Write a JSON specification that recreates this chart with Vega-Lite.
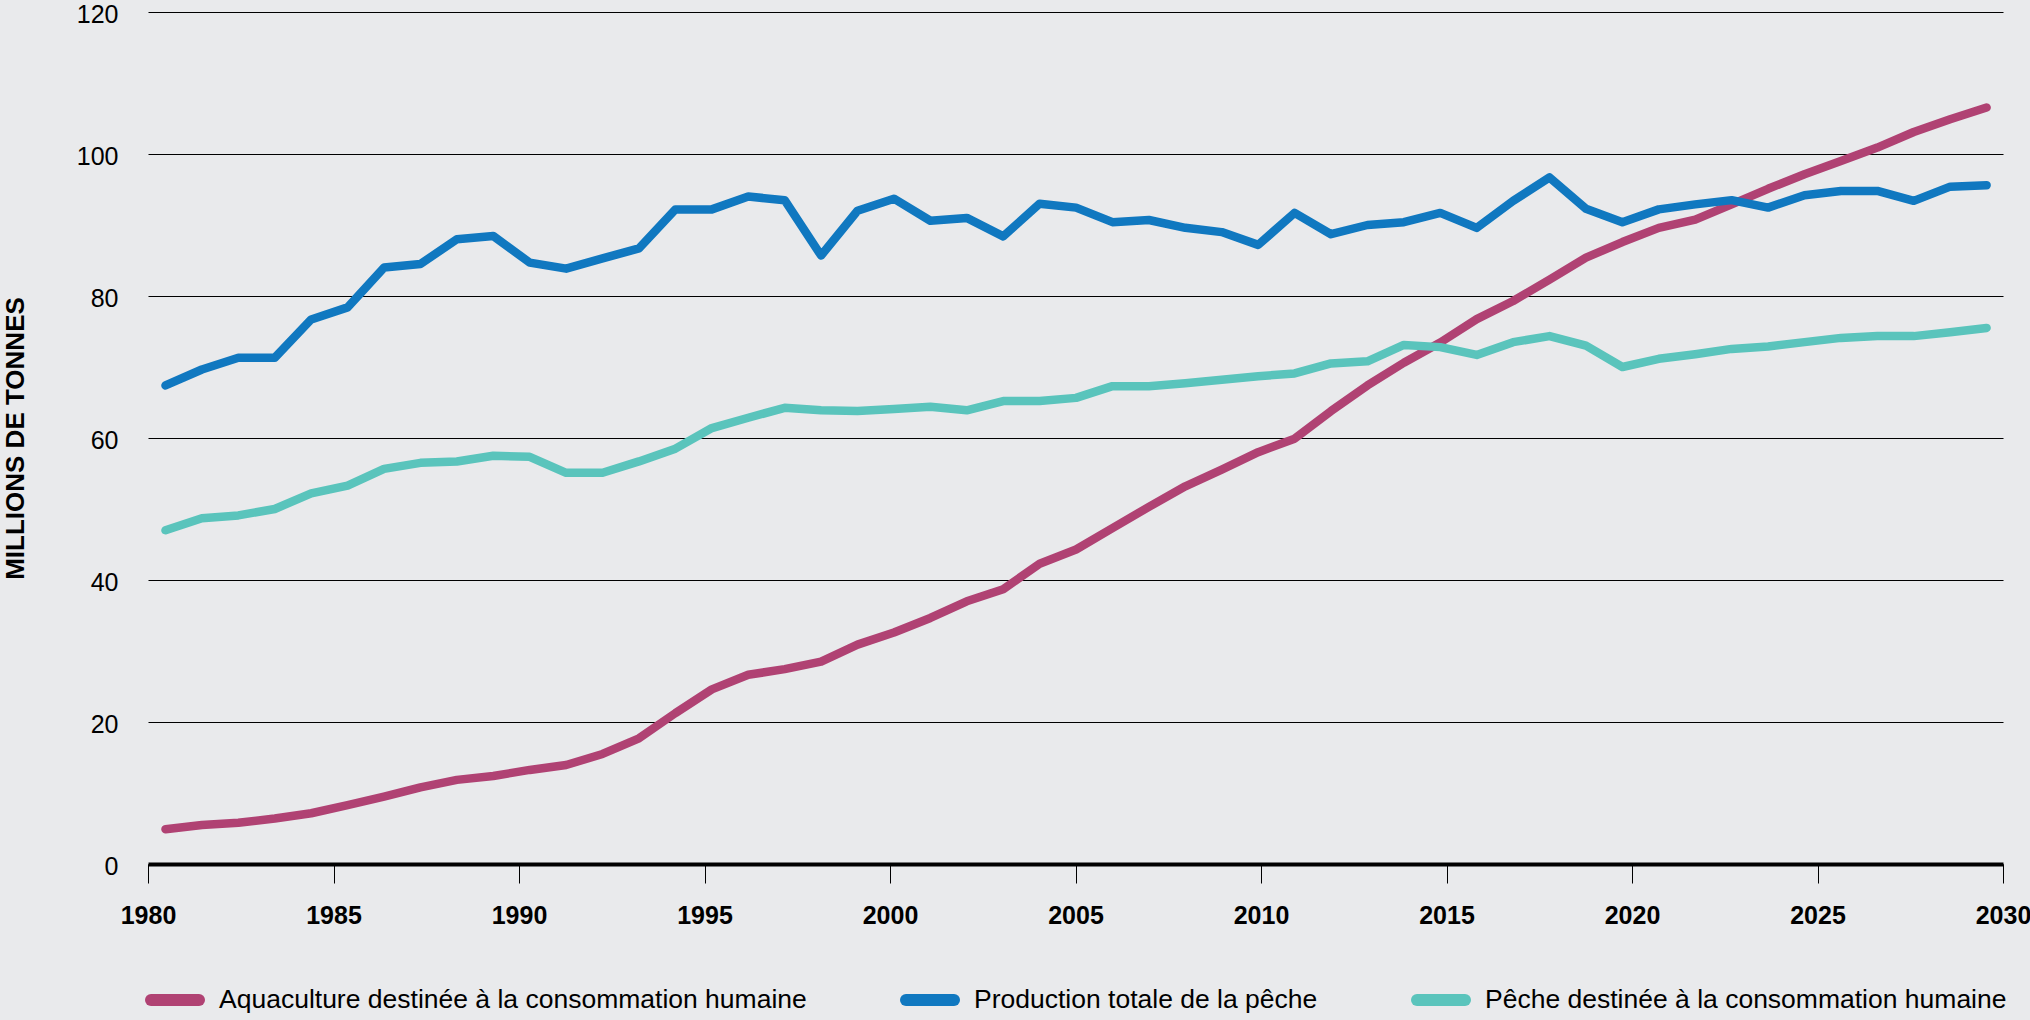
{
  "$schema": "https://vega.github.io/schema/vega-lite/v6.json",
  "width": 1855,
  "height": 852,
  "autosize": {"type": "none"},
  "padding": {"left": 148, "top": 12, "right": 27, "bottom": 156},
  "background": "#E9EAEC",
  "config": {
    "view": {"stroke": null},
    "font": "Liberation Sans, Arial, sans-serif"
  },
  "data": {
    "values": [
      {"year": 1980, "Aquaculture destinée à la consommation humaine": 4.9, "Production totale de la pêche": 67.4, "Pêche destinée à la consommation humaine": 47.0},
      {"year": 1981, "Aquaculture destinée à la consommation humaine": 5.5, "Production totale de la pêche": 69.65, "Pêche destinée à la consommation humaine": 48.7},
      {"year": 1982, "Aquaculture destinée à la consommation humaine": 5.8, "Production totale de la pêche": 71.3, "Pêche destinée à la consommation humaine": 49.1},
      {"year": 1983, "Aquaculture destinée à la consommation humaine": 6.4, "Production totale de la pêche": 71.3, "Pêche destinée à la consommation humaine": 50.0},
      {"year": 1984, "Aquaculture destinée à la consommation humaine": 7.15, "Production totale de la pêche": 76.7, "Pêche destinée à la consommation humaine": 52.2},
      {"year": 1985, "Aquaculture destinée à la consommation humaine": 8.3, "Production totale de la pêche": 78.4, "Pêche destinée à la consommation humaine": 53.3},
      {"year": 1986, "Aquaculture destinée à la consommation humaine": 9.5, "Production totale de la pêche": 84.0, "Pêche destinée à la consommation humaine": 55.65},
      {"year": 1987, "Aquaculture destinée à la consommation humaine": 10.8, "Production totale de la pêche": 84.5, "Pêche destinée à la consommation humaine": 56.5},
      {"year": 1988, "Aquaculture destinée à la consommation humaine": 11.85, "Production totale de la pêche": 88.0, "Pêche destinée à la consommation humaine": 56.7},
      {"year": 1989, "Aquaculture destinée à la consommation humaine": 12.4, "Production totale de la pêche": 88.45, "Pêche destinée à la consommation humaine": 57.5},
      {"year": 1990, "Aquaculture destinée à la consommation humaine": 13.25, "Production totale de la pêche": 84.7, "Pêche destinée à la consommation humaine": 57.35},
      {"year": 1991, "Aquaculture destinée à la consommation humaine": 13.95, "Production totale de la pêche": 83.85, "Pêche destinée à la consommation humaine": 55.1},
      {"year": 1992, "Aquaculture destinée à la consommation humaine": 15.5, "Production totale de la pêche": 85.3, "Pêche destinée à la consommation humaine": 55.1},
      {"year": 1993, "Aquaculture destinée à la consommation humaine": 17.7, "Production totale de la pêche": 86.7, "Pêche destinée à la consommation humaine": 56.7},
      {"year": 1994, "Aquaculture destinée à la consommation humaine": 21.25, "Production totale de la pêche": 92.2, "Pêche destinée à la consommation humaine": 58.5},
      {"year": 1995, "Aquaculture destinée à la consommation humaine": 24.6, "Production totale de la pêche": 92.2, "Pêche destinée à la consommation humaine": 61.4},
      {"year": 1996, "Aquaculture destinée à la consommation humaine": 26.65, "Production totale de la pêche": 94.0, "Pêche destinée à la consommation humaine": 62.85},
      {"year": 1997, "Aquaculture destinée à la consommation humaine": 27.45, "Production totale de la pêche": 93.5, "Pêche destinée à la consommation humaine": 64.25},
      {"year": 1998, "Aquaculture destinée à la consommation humaine": 28.5, "Production totale de la pêche": 85.7, "Pêche destinée à la consommation humaine": 63.9},
      {"year": 1999, "Aquaculture destinée à la consommation humaine": 30.9, "Production totale de la pêche": 92.0, "Pêche destinée à la consommation humaine": 63.8},
      {"year": 2000, "Aquaculture destinée à la consommation humaine": 32.6, "Production totale de la pêche": 93.7, "Pêche destinée à la consommation humaine": 64.1},
      {"year": 2001, "Aquaculture destinée à la consommation humaine": 34.65, "Production totale de la pêche": 90.6, "Pêche destinée à la consommation humaine": 64.4},
      {"year": 2002, "Aquaculture destinée à la consommation humaine": 37.0, "Production totale de la pêche": 91.0, "Pêche destinée à la consommation humaine": 63.9},
      {"year": 2003, "Aquaculture destinée à la consommation humaine": 38.7, "Production totale de la pêche": 88.4, "Pêche destinée à la consommation humaine": 65.2},
      {"year": 2004, "Aquaculture destinée à la consommation humaine": 42.3, "Production totale de la pêche": 93.0, "Pêche destinée à la consommation humaine": 65.2},
      {"year": 2005, "Aquaculture destinée à la consommation humaine": 44.3, "Production totale de la pêche": 92.45, "Pêche destinée à la consommation humaine": 65.65},
      {"year": 2006, "Aquaculture destinée à la consommation humaine": 47.3, "Production totale de la pêche": 90.4, "Pêche destinée à la consommation humaine": 67.3},
      {"year": 2007, "Aquaculture destinée à la consommation humaine": 50.3, "Production totale de la pêche": 90.7, "Pêche destinée à la consommation humaine": 67.3},
      {"year": 2008, "Aquaculture destinée à la consommation humaine": 53.2, "Production totale de la pêche": 89.6, "Pêche destinée à la consommation humaine": 67.7},
      {"year": 2009, "Aquaculture destinée à la consommation humaine": 55.55, "Production totale de la pêche": 89.0, "Pêche destinée à la consommation humaine": 68.2},
      {"year": 2010, "Aquaculture destinée à la consommation humaine": 58.0, "Production totale de la pêche": 87.2, "Pêche destinée à la consommation humaine": 68.7},
      {"year": 2011, "Aquaculture destinée à la consommation humaine": 59.9, "Production totale de la pêche": 91.7, "Pêche destinée à la consommation humaine": 69.1},
      {"year": 2012, "Aquaculture destinée à la consommation humaine": 63.8, "Production totale de la pêche": 88.7, "Pêche destinée à la consommation humaine": 70.5},
      {"year": 2013, "Aquaculture destinée à la consommation humaine": 67.4, "Production totale de la pêche": 90.0, "Pêche destinée à la consommation humaine": 70.8},
      {"year": 2014, "Aquaculture destinée à la consommation humaine": 70.6, "Production totale de la pêche": 90.4, "Pêche destinée à la consommation humaine": 73.1},
      {"year": 2015, "Aquaculture destinée à la consommation humaine": 73.45, "Production totale de la pêche": 91.7, "Pêche destinée à la consommation humaine": 72.8},
      {"year": 2016, "Aquaculture destinée à la consommation humaine": 76.75, "Production totale de la pêche": 89.6, "Pêche destinée à la consommation humaine": 71.7},
      {"year": 2017, "Aquaculture destinée à la consommation humaine": 79.3, "Production totale de la pêche": 93.4, "Pêche destinée à la consommation humaine": 73.5},
      {"year": 2018, "Aquaculture destinée à la consommation humaine": 82.3, "Production totale de la pêche": 96.7, "Pêche destinée à la consommation humaine": 74.35},
      {"year": 2019, "Aquaculture destinée à la consommation humaine": 85.4, "Production totale de la pêche": 92.3, "Pêche destinée à la consommation humaine": 73.0},
      {"year": 2020, "Aquaculture destinée à la consommation humaine": 87.6, "Production totale de la pêche": 90.4, "Pêche destinée à la consommation humaine": 70.0},
      {"year": 2021, "Aquaculture destinée à la consommation humaine": 89.6, "Production totale de la pêche": 92.2, "Pêche destinée à la consommation humaine": 71.15},
      {"year": 2022, "Aquaculture destinée à la consommation humaine": 90.75, "Production totale de la pêche": 92.9, "Pêche destinée à la consommation humaine": 71.8},
      {"year": 2023, "Aquaculture destinée à la consommation humaine": 92.9, "Production totale de la pêche": 93.5, "Pêche destinée à la consommation humaine": 72.55},
      {"year": 2024, "Aquaculture destinée à la consommation humaine": 95.1, "Production totale de la pêche": 92.45, "Pêche destinée à la consommation humaine": 72.9},
      {"year": 2025, "Aquaculture destinée à la consommation humaine": 97.15, "Production totale de la pêche": 94.2, "Pêche destinée à la consommation humaine": 73.5},
      {"year": 2026, "Aquaculture destinée à la consommation humaine": 99.0, "Production totale de la pêche": 94.8, "Pêche destinée à la consommation humaine": 74.1},
      {"year": 2027, "Aquaculture destinée à la consommation humaine": 100.9, "Production totale de la pêche": 94.8, "Pêche destinée à la consommation humaine": 74.35},
      {"year": 2028, "Aquaculture destinée à la consommation humaine": 103.1, "Production totale de la pêche": 93.4, "Pêche destinée à la consommation humaine": 74.35},
      {"year": 2029, "Aquaculture destinée à la consommation humaine": 104.9, "Production totale de la pêche": 95.4, "Pêche destinée à la consommation humaine": 74.9},
      {"year": 2030, "Aquaculture destinée à la consommation humaine": 106.55, "Production totale de la pêche": 95.6, "Pêche destinée à la consommation humaine": 75.5}
    ]
  },
  "transform": [
    {"fold": ["Aquaculture destinée à la consommation humaine", "Production totale de la pêche", "Pêche destinée à la consommation humaine"], "as": ["serie", "valeur"]}
  ],
  "encoding": {
    "y": {
      "field": "valeur",
      "type": "quantitative",
      "scale": {"domain": [0, 120], "nice": false, "zero": true},
      "axis": {
        "values": [0, 20, 40, 60, 80, 100, 120],
        "grid": true,
        "gridColor": "#000000",
        "gridWidth": 1.2,
        "gridOpacity": 1,
        "domain": false,
        "ticks": false,
        "tickSize": 0,
        "labelPadding": 30,
        "labelOffset": 2,
        "labelFontSize": 25,
        "labelColor": "#000000",
        "title": "MILLIONS DE TONNES",
        "titleFontSize": 26,
        "titleFontWeight": "bold",
        "titleColor": "#000000",
        "titleX": -125,
        "titleY": 426,
        "titleAngle": 270,
        "titleAlign": "center",
        "titleBaseline": "alphabetic"
      }
    }
  },
  "layer": [
    {
      "mark": {"type": "line", "strokeWidth": 8.5, "strokeCap": "round", "strokeJoin": "round"},
      "encoding": {
        "x": {
          "field": "year",
          "type": "quantitative",
          "scale": {"domain": [1979.52, 2030.45], "nice": false, "zero": false},
          "axis": null
        },
        "color": {
          "field": "serie",
          "type": "nominal",
          "scale": {
            "domain": ["Aquaculture destinée à la consommation humaine", "Production totale de la pêche", "Pêche destinée à la consommation humaine"],
            "range": ["#B04273", "#1078C0", "#5AC4BC"]
          },
          "legend": {
            "orient": "none",
            "legendX": -3,
            "legendY": 958,
            "direction": "horizontal",
            "title": null,
            "padding": 0,
            "symbolType": "stroke",
            "symbolStrokeWidth": 12,
            "symbolSize": 2304,
            "labelFontSize": 26.5,
            "labelColor": "#000000",
            "labelOffset": 14,
            "columnPadding": 75,
            "labelLimit": 800,
            "encode": {"symbols": {"update": {"strokeCap": {"value": "round"}}}}
          }
        }
      }
    },
    {
      "mark": {"type": "point", "opacity": 0},
      "encoding": {
        "x": {
          "field": "year",
          "type": "quantitative",
          "scale": {"domain": [1980, 2030], "nice": false, "zero": false},
          "axis": {
            "orient": "bottom",
            "values": [1980, 1985, 1990, 1995, 2000, 2005, 2010, 2015, 2020, 2025, 2030],
            "format": "d",
            "grid": false,
            "domain": true,
            "domainColor": "#000000",
            "domainWidth": 4,
            "ticks": true,
            "tickColor": "#000000",
            "tickSize": 19,
            "tickWidth": 1,
            "labelFontSize": 25,
            "labelFontWeight": "bold",
            "labelColor": "#000000",
            "labelPadding": 20,
            "labelFlush": false,
            "labelOverlap": false,
            "title": null
          }
        }
      }
    }
  ],
  "resolve": {"scale": {"x": "independent"}}
}
